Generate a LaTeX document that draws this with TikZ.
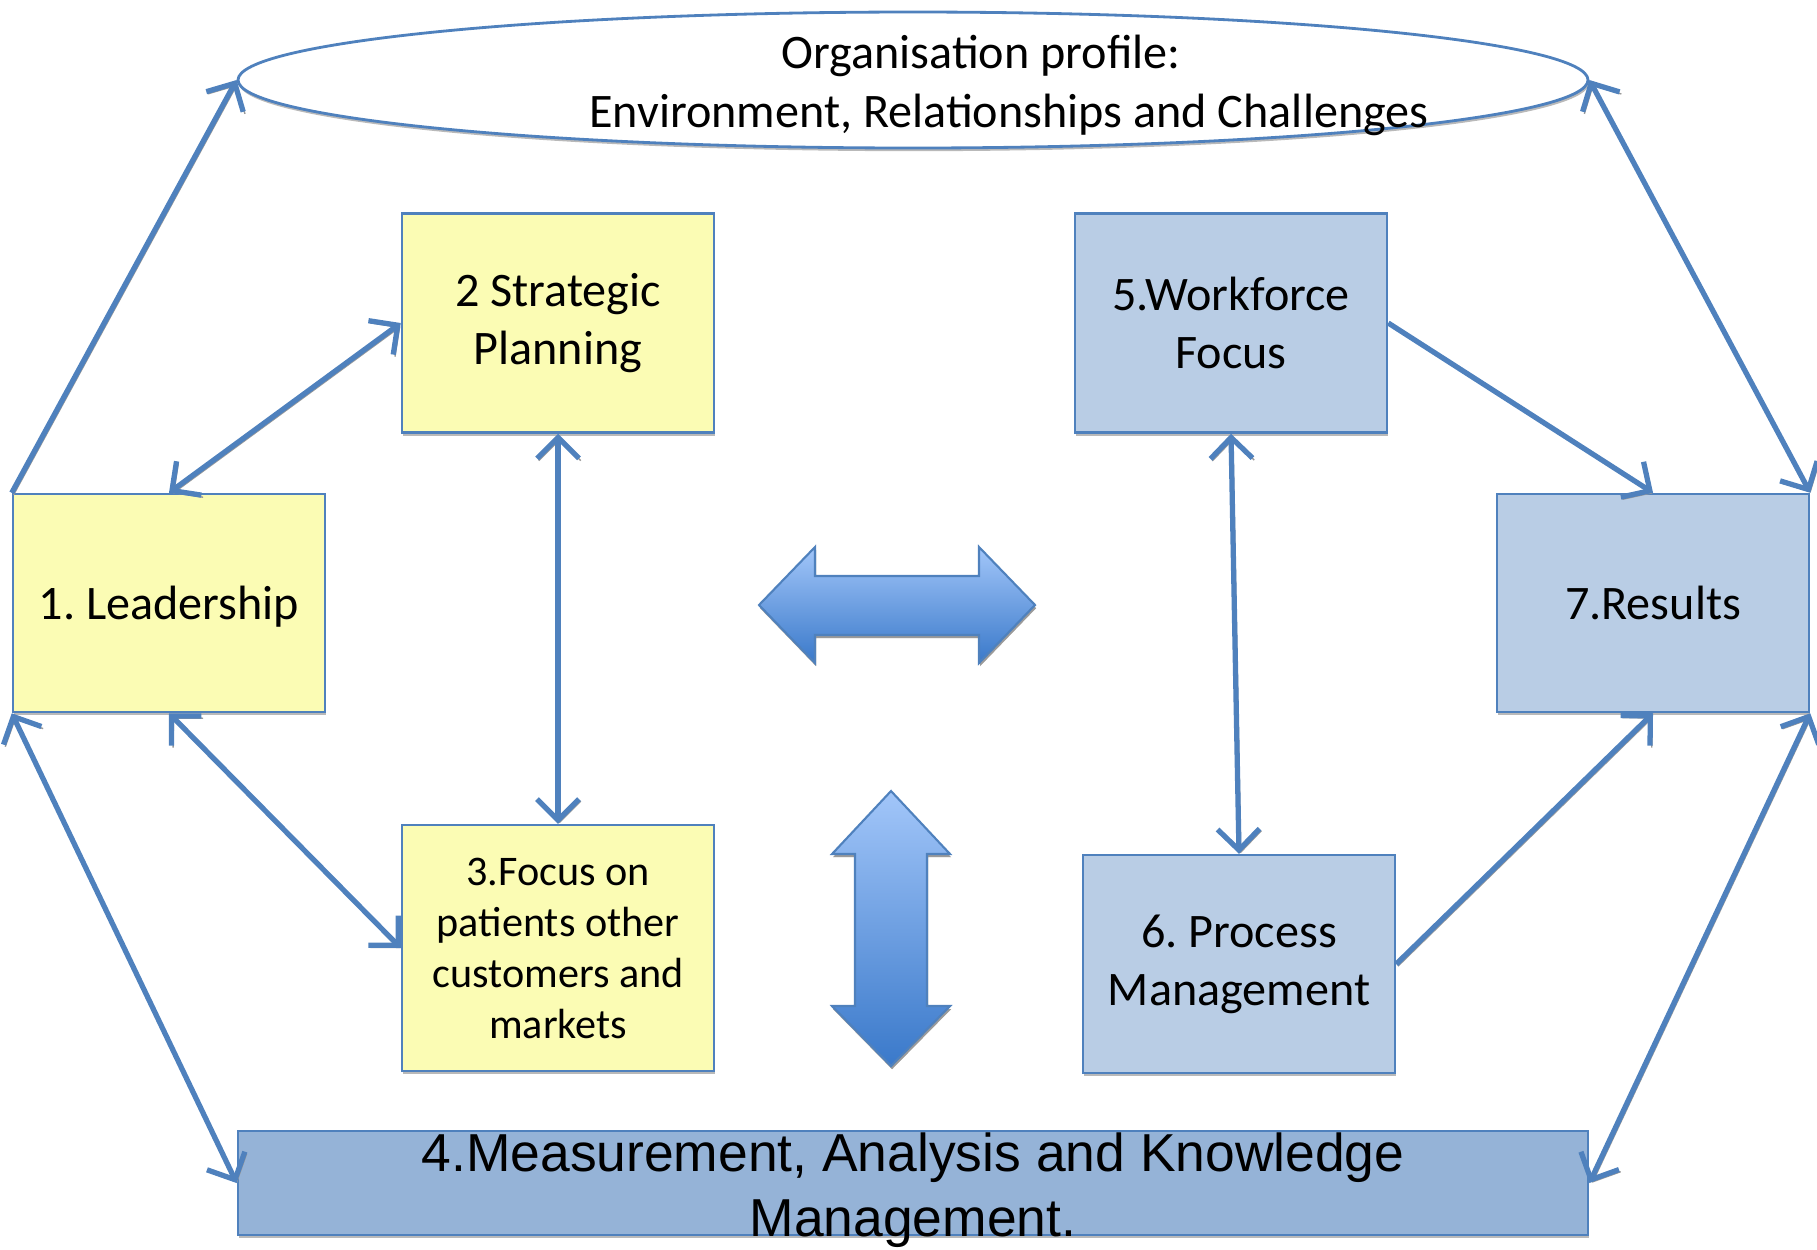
\documentclass[tikz,border=0pt]{standalone}
\usepackage{fontspec}
\setmainfont{Carlito}
\newfontfamily\arialfont{Liberation Sans}
\usetikzlibrary{arrows.meta,shapes.geometric,shadows}
\frenchspacing

\definecolor{edgeblue}{HTML}{4F81BD}
\definecolor{paleyellow}{HTML}{FBFCB4}
\definecolor{paleblue}{HTML}{B9CDE5}
\definecolor{midblue}{HTML}{95B3D7}
\definecolor{arrowtop}{HTML}{A2C6F9}
\definecolor{arrowbot}{HTML}{3A79CA}

\tikzset{
  barb/.tip={Straight Barb[length=2.1mm,width=4.2mm]},
  shade/.style={drop shadow={shadow xshift=0.3pt,shadow yshift=-0.9pt,opacity=0.55}},
  box/.style={draw=edgeblue, line width=0.7pt, shade, align=center, inner sep=2pt,
    minimum width=3.12cm, minimum height=2.18cm, font=\fontsize{13.7}{16.5}\selectfont},
  yellowbox/.style={box, fill=paleyellow},
  bluebox/.style={box, fill=paleblue},
  link/.style={draw=edgeblue, line width=1.5pt, -barb,
    preaction={draw=black!40, transform canvas={xshift=0.5pt,yshift=-0.6pt}}},
  dlink/.style={link, barb-barb},
  blockarrow/.style={draw=edgeblue, line width=0.6pt, top color=arrowtop, bottom color=arrowbot, shade}
}

\begin{document}
\begin{tikzpicture}
  \useasboundingbox (0,0) rectangle (18.17,-12.49);

  \node[ellipse, draw=edgeblue, line width=0.8pt, shade, fill=white,
    minimum width=13.5cm, minimum height=1.36cm] (org) at (9.13,-0.80) {};
  \node[align=center, font=\fontsize{13.7}{16.8}\selectfont] (orgtxt) at (9.81,-0.85)
    {Organisation profile:\\\hspace*{5.6mm}Environment, Relationships and Challenges};

  \node[yellowbox, text depth=0pt] (lead) at (1.69,-6.03) {1. Leadership};
  \node[yellowbox, minimum height=2.19cm] (plan) at (5.58,-3.23) {2 Strategic\\Planning};
  \node[yellowbox, minimum height=2.46cm, font=\fontsize{12}{14.5}\selectfont] (cust) at (5.58,-9.48)
    {3.Focus on\\patients other\\customers and\\markets};
  \node[bluebox, minimum height=2.19cm] (work) at (12.31,-3.23) {5.Workforce\\Focus};
  \node[bluebox] (proc) at (12.39,-9.64) {6. Process\\Management\vphantom{g}};
  \node[bluebox] (res) at (16.53,-6.03) {7.Results};

  \node[draw=edgeblue, line width=0.8pt, fill=midblue, shade,
    minimum width=13.5cm, minimum height=1.04cm, inner sep=0pt] (meas) at (9.13,-11.83) {};
  \node[align=center, font=\arialfont\fontsize{15.2}{18.4}\selectfont] (meastxt) at (9.13,-11.90)
    {4.Measurement, Analysis and Knowledge\\Management.};

  \shade[blockarrow] (7.59,-6.05) -- (8.15,-5.47) -- (8.15,-5.76) -- (9.79,-5.76) -- (9.79,-5.47)
    -- (10.35,-6.05) -- (9.79,-6.63) -- (9.79,-6.35) -- (8.15,-6.35) -- (8.15,-6.63) -- cycle;
  \shade[blockarrow] (8.91,-7.91) -- (9.50,-8.54) -- (9.27,-8.54) -- (9.27,-10.06) -- (9.50,-10.06)
    -- (8.91,-10.66) -- (8.32,-10.06) -- (8.55,-10.06) -- (8.55,-8.54) -- (8.32,-8.54) -- cycle;

  \draw[link] (lead.north west) -- (org.west);
  \draw[dlink] (lead.north) -- (plan.west);
  \draw[dlink] (plan.south) -- (cust.north);
  \draw[dlink] (lead.south) -- (cust.west);
  \draw[dlink] (lead.south west) -- (meas.west);
  \draw[dlink] (org.east) -- (res.north east);
  \draw[link] (work.east) -- (res.north);
  \draw[dlink] (work.south) -- (proc.north);
  \draw[link] (proc.east) -- (res.south);
  \draw[dlink] (res.south east) -- (meas.east);
\end{tikzpicture}
\end{document}
